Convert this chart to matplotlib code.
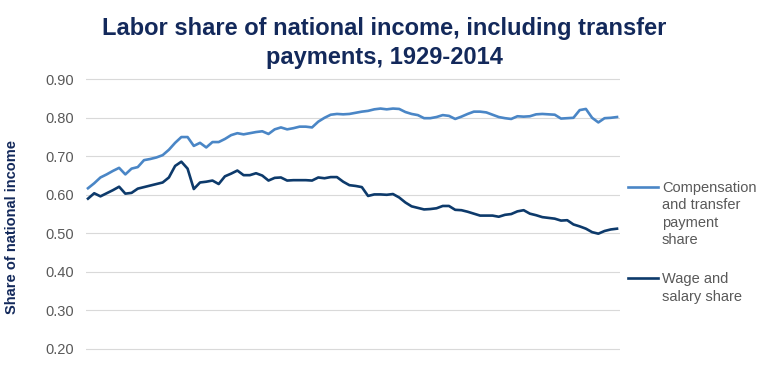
import matplotlib
matplotlib.use("Agg")
import matplotlib.pyplot as plt
from matplotlib.lines import Line2D

plt.rcParams['font.family'] = ['Liberation Sans', 'DejaVu Sans']

years = list(range(1929, 2015))

# compensation + transfer payments share
comp_share = [
    0.617, 0.630, 0.645, 0.653, 0.662, 0.670, 0.653, 0.668, 0.672, 0.690,
    0.693, 0.697, 0.703, 0.717, 0.735, 0.750, 0.750, 0.727, 0.735, 0.723,
    0.737, 0.737, 0.745, 0.755, 0.760, 0.757, 0.760, 0.763, 0.765, 0.758,
    0.770, 0.775, 0.770, 0.773, 0.777, 0.777, 0.775, 0.790, 0.800, 0.808,
    0.810, 0.809, 0.810, 0.813, 0.816, 0.818, 0.822, 0.824, 0.822, 0.824,
    0.823, 0.815, 0.810, 0.807, 0.799, 0.799, 0.802, 0.807, 0.805, 0.797,
    0.803, 0.810, 0.816, 0.816, 0.814, 0.808, 0.802, 0.799, 0.797, 0.804,
    0.803, 0.804, 0.809, 0.810, 0.809, 0.808, 0.798, 0.799, 0.800, 0.820,
    0.823, 0.800, 0.788, 0.799, 0.800, 0.802,
]

# wage and salary share
wage_share = [
    0.590, 0.604, 0.596, 0.604, 0.612, 0.621, 0.603, 0.605, 0.616, 0.620,
    0.624, 0.628, 0.632, 0.645, 0.675, 0.686, 0.668, 0.615, 0.632, 0.634,
    0.637, 0.628, 0.648, 0.655, 0.663, 0.651, 0.651, 0.656, 0.650, 0.637,
    0.644, 0.645, 0.637, 0.638, 0.638, 0.638, 0.637, 0.645, 0.643, 0.646,
    0.646, 0.634, 0.625, 0.623, 0.620, 0.597, 0.601, 0.601, 0.600, 0.602,
    0.593, 0.580, 0.570, 0.566, 0.562, 0.563, 0.565, 0.571, 0.571, 0.561,
    0.560, 0.556, 0.551, 0.546, 0.546, 0.546, 0.543, 0.548, 0.550, 0.557,
    0.560, 0.551, 0.547, 0.542, 0.540, 0.538, 0.533, 0.534, 0.523, 0.518,
    0.512, 0.503, 0.499, 0.506, 0.510, 0.512,
]

series_labels = ["Compensation\nand transfer\npayment\nshare", "Wage and\nsalary share"]
series_colors = ["#4A86C6", "#0D3A6B"]
y_ticks = [0.20, 0.30, 0.40, 0.50, 0.60, 0.70, 0.80, 0.90]

navy = "#13295B"
grey = "#595959"

W, H = 768, 368
fig = plt.figure(figsize=(W / 100, H / 100), dpi=100)

# axes placed in pixel terms: x 86..620, y 71.6..356.5 (from top)
ax = fig.add_axes([86 / W, 1 - 356.5 / H, (620 - 86) / W, (356.5 - 71.6) / H])
ax.plot(years, comp_share, color=series_colors[0], lw=1.9, solid_joinstyle='round')
ax.plot(years, wage_share, color=series_colors[1], lw=1.9, solid_joinstyle='round')

ax.set_xlim(1928.68, 2014.48)
ax.set_ylim(0.18, 0.92)
ax.set_yticks(y_ticks)
ax.set_yticklabels([f"{v:.2f}" for v in y_ticks])
ax.set_xticks([])
ax.tick_params(axis='y', length=0, pad=9, labelsize=10.5, labelcolor=grey)
ax.grid(axis='y', color="#D9D9D9", lw=0.8)
ax.set_axisbelow(True)
for s in ax.spines.values():
    s.set_visible(False)

# title
fig.text(0.5, 1 - 43 / H, "Labor share of national income, including transfer\npayments, 1929-2014",
         ha='center', va='center', fontsize=17, fontweight='bold', color=navy, linespacing=1.3)

# y label
fig.text(12.5 / W, 1 - 226.5 / H, "Share of national income", rotation=90,
         ha='center', va='center', fontsize=10.5, fontweight='bold', color=navy)

# legend, drawn by hand so the key sits on the first text line
for lab, col, y_key, y_mid in zip(series_labels, series_colors, [187, 278], [214, 288]):
    fig.add_artist(Line2D([628 / W, 658 / W], [1 - y_key / H, 1 - y_key / H],
                          color=col, lw=1.9, transform=fig.transFigure))
    fig.text(662 / W, 1 - y_mid / H, lab, ha='left', va='center',
             fontsize=10.5, color=grey, linespacing=1.28)

fig.savefig("out.png", dpi=100)
